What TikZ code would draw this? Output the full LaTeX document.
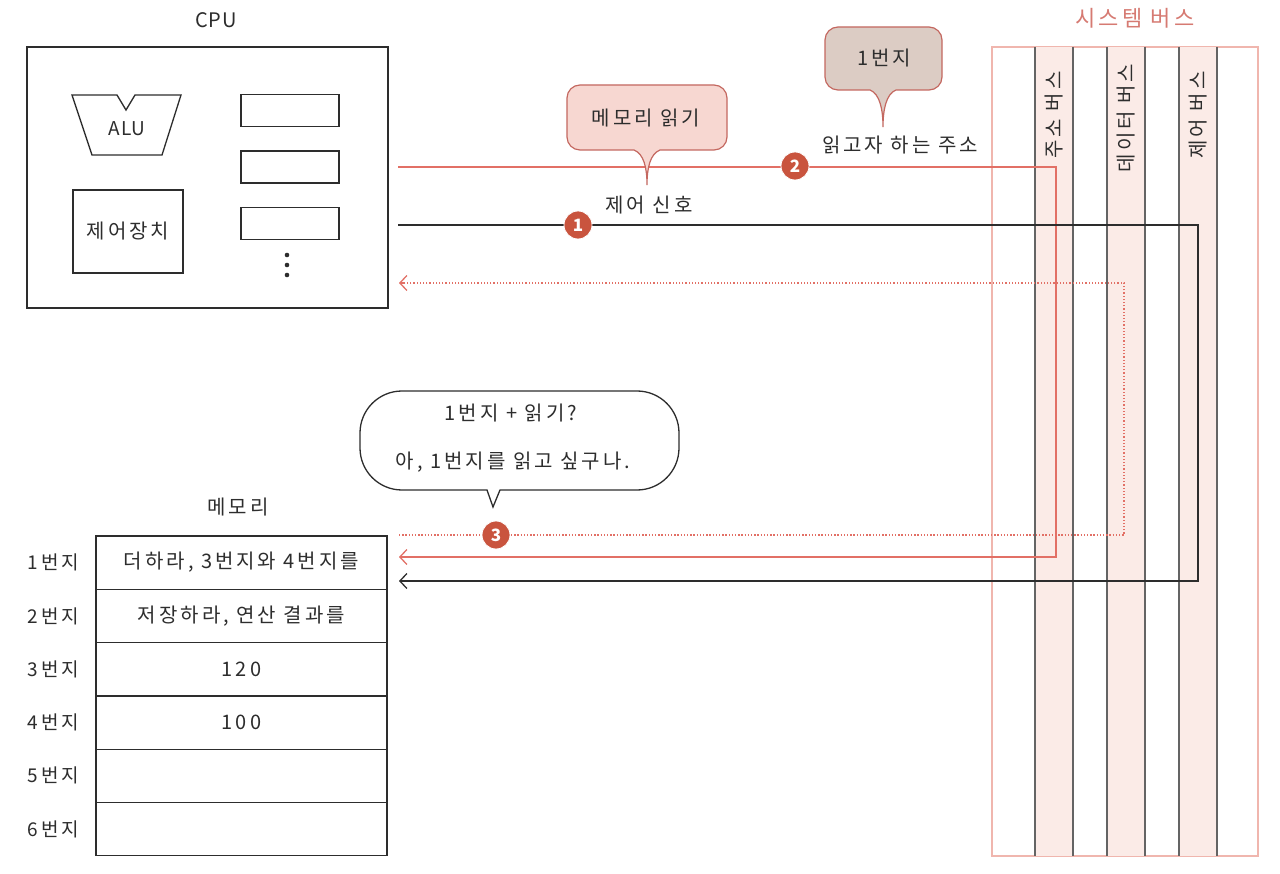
\documentclass[tikz,border=0pt]{standalone}
\usepackage{fontspec}
\setmainfont{Noto Sans CJK KR}[LetterSpace=15]
\newfontfamily\plainfont{Noto Sans CJK KR}[LetterSpace=4]
\usetikzlibrary{arrows.meta}
\definecolor{ink}{RGB}{45,45,45}
\definecolor{linered}{RGB}{226,112,102}
\definecolor{buspink}{RGB}{240,182,174}
\definecolor{stripefill}{RGB}{251,235,231}
\definecolor{stripeline}{RGB}{100,100,100}
\definecolor{calloutfill}{RGB}{247,215,209}
\definecolor{calloutline}{RGB}{196,104,96}
\definecolor{taupe}{RGB}{220,204,196}
\definecolor{badgered}{RGB}{201,84,62}
\definecolor{bustitle}{RGB}{214,122,114}
\begin{document}
\begin{tikzpicture}[x=1pt,y=-1pt,
  every node/.style={text=ink, font=\fontsize{20}{22}\selectfont, inner sep=0pt},
  box/.style={draw=ink, line width=1.3pt},
  reg/.style={draw=ink, line width=1.3pt, minimum width=98pt, minimum height=32pt},
  cell/.style={draw=ink, line width=1.3pt, minimum width=291pt, minimum height=53.3pt},
  rowlabel/.style={font=\fontsize{19}{21}\selectfont},
  badge/.style={circle, fill=badgered, draw=white, line width=0.8pt, minimum size=28pt,
     text=white, font=\plainfont\fontsize{17}{17}\selectfont\bfseries},
  redwire/.style={draw=linered, line width=1.4pt},
  blackwire/.style={draw=ink, line width=1.4pt},
  dotwire/.style={draw=linered, line width=1.3pt, dash pattern=on 1.3pt off 1.9pt},
  tip/.style={-{Straight Barb[length=7pt,width=15pt,line width=1.3pt]}},
  calloutbox/.style={fill=calloutfill, draw=calloutline, line width=1.2pt},
  taupebox/.style={fill=taupe, draw=calloutline, line width=1.2pt},
  bubble/.style={fill=white, draw=ink, line width=1.3pt},
  stripe/.style={fill=stripefill, draw=none},
  stripeedge/.style={draw=stripeline, line width=1.2pt},
]
\fill[white] (0,0) rectangle (1280,874);
\useasboundingbox (0,0) rectangle (1280,874);

% ---------------- CPU ----------------
\node[font=\plainfont\fontsize{20}{22}\selectfont] (cpulabel) at (216,20) {CPU};
\node[box, minimum width=361pt, minimum height=261pt] (cpu) at (207.5,177.5) {};
\draw[box, line join=miter] (72,95) -- (117,95) -- (126,110) -- (135,95) -- (181,95) -- (162,155) -- (92,155) -- cycle;
\node[font=\plainfont\fontsize{19}{20}\selectfont] (alu) at (127,129) {ALU};
\node[box, minimum width=110pt, minimum height=83pt] (cu) at (128,231.5) {제어장치};
\node[reg] (r1) at (290,110.5) {};
\node[reg] (r2) at (290,167) {};
\node[reg] (r3) at (290,223.5) {};
\foreach \yy in {255,265,275} \fill[ink] (287,\yy) circle (2.3pt);

% ---------------- Memory ----------------
\node (memlabel) at (238,507) {메모리};
\node[cell] (m1) at (241.5,562.6) {더하라, 3번지와 4번지를};
\node[cell] (m2) at (241.5,615.9) {저장하라, 연산 결과를};
\node[cell] (m3) at (241.5,669.2) {120};
\node[cell] (m4) at (241.5,722.5) {100};
\node[cell] (m5) at (241.5,775.8) {};
\node[cell] (m6) at (241.5,829.1) {};
\foreach \k in {1,...,6} \node[rowlabel, anchor=east] (l\k) at ([xshift=-16pt]m\k.west) {{\k}번지};

% ---------------- System bus ----------------
\node[text=bustitle, font=\fontsize{22}{24}\selectfont] (bustitle) at (1135,18) {시스템 버스};
\draw[draw=buspink, line width=1.3pt] (992,47) rectangle (1258,856);
\foreach \xa/\xb in {1035/1073,1107/1145,1179/1217}{
  \fill[stripe] (\xa,47) rectangle (\xb,856);
  \draw[stripeedge] (\xa,47) -- (\xa,856);
  \draw[stripeedge] (\xb,47) -- (\xb,856);
}
\node[rotate=90] (abus) at (1054,115) {주소 버스};
\node[rotate=90] (dbus) at (1126,118) {데이터 버스};
\node[rotate=90] (cbus) at (1198,115) {제어 버스};

% ---------------- Connectors ----------------
\coordinate (redstart) at (398,167);
\coordinate (redturn) at (1056,400);
\coordinate (redend) at (399,557);
\coordinate (blkstart) at (398,225);
\coordinate (blkturn) at (1198,400);
\coordinate (blkend) at (399,581);
\coordinate (dotstart) at (399,535);
\coordinate (dotturn) at (1124,400);
\coordinate (dotend) at (399,283);

\draw[redwire, tip] (redstart) -| (redturn) |- (redend);
\draw[blackwire, tip] (blkstart) -| (blkturn) |- (blkend);
\draw[dotwire] (dotstart) -| (dotturn) |- (dotend);
\draw[draw=linered, line width=1.3pt, tip] ([xshift=6pt]dotend) -- (dotend);

% badges
\node[badge] (b1) at (578,225) {1};
\node[badge] (b2) at (795,166) {2};
\node[badge] (b3) at (496,535) {3};

% ---------------- Callouts ----------------
\draw[calloutbox] (634,150) [rounded corners=13pt] -- (567,150) -- (567,85) -- (727,85) -- (727,150) [sharp corners] -- (660,150)
   .. controls (650,154) and (647,168) .. (647,185)
   .. controls (647,168) and (644,154) .. (634,150) -- cycle;
\node (c1) at (646,118) {메모리 읽기};
\node (sig1) at (649,205) {제어 신호};

\draw[taupebox] (870,90) [rounded corners=13pt] -- (825,90) -- (825,27) -- (942,27) -- (942,90) [sharp corners] -- (896,90)
   .. controls (886,94) and (883,110) .. (883,127)
   .. controls (883,110) and (880,94) .. (870,90) -- cycle;
\node (c2) at (884,58) {1번지};
\node (sig2) at (900,145) {읽고자 하는 주소};

\draw[bubble] (486,490) [rounded corners=42pt] -- (360,490) -- (360,391) -- (679,391) -- (679,490) [sharp corners] -- (500,490)
   -- (493,507) -- (487,490) -- cycle;
\node (q1) at (511,413) {1번지 + 읽기?};
\node (q2) at (513,462) {아, 1번지를 읽고 싶구나.};
\end{tikzpicture}
\end{document}
